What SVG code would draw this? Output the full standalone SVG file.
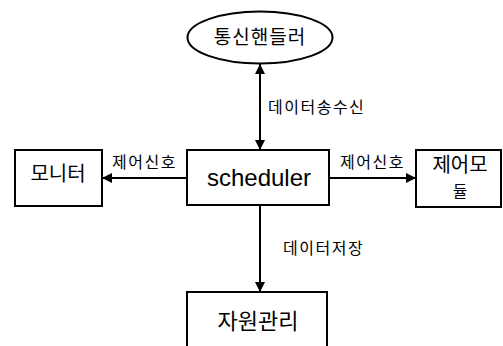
<svg xmlns="http://www.w3.org/2000/svg" width="503" height="346" viewBox="0 0 503 346">
<style>
.box{fill:#fff;stroke:#000;stroke-width:2}
.kr{font-family:"Noto Sans CJK KR","Liberation Sans",sans-serif;fill:#000}
.lb{font-size:16px;letter-spacing:1.5px}
.en{font-family:"Liberation Sans",Arial,sans-serif;fill:#000}
.ln{stroke:#000;stroke-width:2;fill:none}
</style>
<defs>
<marker id="ah" viewBox="0 0 10 10" refX="10" refY="5" markerWidth="10" markerHeight="10" markerUnits="userSpaceOnUse" orient="auto-start-reverse">
<path d="M0,0 L10,5 L0,10 Z" fill="#000"/>
</marker>
</defs>
<rect width="503" height="346" fill="#fff"/>
<g id="connectors">
<line class="ln" x1="260" y1="64" x2="260" y2="150" marker-start="url(#ah)" marker-end="url(#ah)"/>
<line class="ln" x1="187" y1="178" x2="102" y2="178" marker-end="url(#ah)"/>
<line class="ln" x1="329" y1="178" x2="416" y2="178" marker-end="url(#ah)"/>
<line class="ln" x1="260" y1="205" x2="260" y2="292" marker-end="url(#ah)"/>
<text class="kr lb" x="268" y="113">데이터송수신</text>
<text class="kr lb" x="112" y="168">제어신호</text>
<text class="kr lb" x="340" y="168">제어신호</text>
<text class="kr lb" x="283" y="254">데이터저장</text>
</g>
<g id="node-comm">
<ellipse class="box" cx="260" cy="37.5" rx="72.5" ry="26"/>
<text class="kr" x="260" y="44" font-size="19" letter-spacing="1" text-anchor="middle">통신핸들러</text>
</g>
<g id="node-scheduler">
<rect class="box" x="187" y="150" width="142" height="55"/>
<text class="en" x="259" y="186" font-size="24" text-anchor="middle">scheduler</text>
</g>
<g id="node-monitor">
<rect class="box" x="15" y="150" width="87" height="56"/>
<text class="kr" x="58" y="181" font-size="20" text-anchor="middle">모니터</text>
</g>
<g id="node-control">
<rect class="box" x="416" y="150" width="85" height="57"/>
<text class="kr" x="460" y="172" font-size="20" text-anchor="middle">제어모</text>
<text class="kr" x="460" y="197" font-size="16" text-anchor="middle">듈</text>
</g>
<g id="node-resource">
<rect class="box" x="187" y="292" width="140" height="60"/>
<text class="kr" x="258" y="329" font-size="22" text-anchor="middle">자원관리</text>
</g>
</svg>
